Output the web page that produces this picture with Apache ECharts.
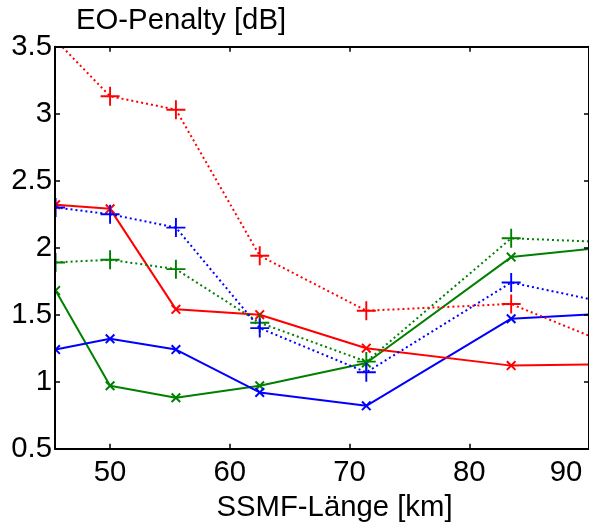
<!DOCTYPE html>
<html>
<head>
<meta charset="utf-8">
<script src="https://cdn.jsdelivr.net/npm/echarts@6/dist/echarts.min.js"></script>
<style>
  html, body { margin: 0; padding: 0; background: #fff; }
  #chart { width: 589px; height: 527px; }
</style>
</head>
<body>
<div id="chart"></div>
<script>
// Fibre lengths (km) at which the penalty was evaluated
const lengths = [45.45, 50, 55.5, 62.5, 71.4, 83.5, 92];

// EO penalty in dB, one array per configuration
const redPlus   = [3.55, 3.13, 3.03, 1.94, 1.53, 1.58, 1.27];
const redCross  = [2.32, 2.29, 1.54, 1.50, 1.25, 1.12, 1.13];
const bluePlus  = [2.30, 2.25, 2.15, 1.40, 1.07, 1.74, 1.58];
const blueCross = [1.24, 1.32, 1.24, 0.92, 0.82, 1.47, 1.51];
const greenPlus = [1.89, 1.91, 1.84, 1.44, 1.15, 2.07, 2.04];
const greenCross= [1.68, 0.97, 0.88, 0.97, 1.14, 1.93, 2.01];

const xTicks = [50, 60, 70, 80, 90];

const FONT = 'Liberation Sans';
const FS = 29.3;

const PLUS = 'path://M0,9H20V11H0Z M9,0H11V20H9Z';
const CROSS = 'path://M0,2.83L2.83,0L20,17.17L17.17,20Z M17.17,0L20,2.83L2.83,20L0,17.17Z';

function pairs(ys) {
  return lengths.map((x, i) => [x, ys[i]]);
}

function mkSeries(ys, color, dotted) {
  return {
    type: 'line',
    data: pairs(ys),
    clip: true,
    symbol: dotted ? PLUS : CROSS,
    symbolSize: dotted ? 19 : 10,
    itemStyle: { color: color },
    lineStyle: {
      color: color,
      width: 2,
      type: dotted ? [2, 3] : 'solid'
    },
    emphasis: { disabled: true },
    z: 2
  };
}

const chart = echarts.init(document.getElementById('chart'), null, { renderer: 'canvas' });

const tickCommon = {
  show: true, inside: true, length: 5,
  lineStyle: { color: '#000', width: 1.5 }
};

chart.setOption({
  animation: false,
  backgroundColor: '#fff',
  grid: { left: 55, top: 46.7, width: 536.6, height: 402 },
  xAxis: [
    {
      type: 'value', position: 'bottom', min: 45.4, max: 90,
      z: 10,
      axisLine: { show: true, onZero: false, lineStyle: { color: '#000', width: 2 } },
      axisTick: Object.assign({ customValues: xTicks }, tickCommon),
      splitLine: { show: false },
      axisLabel: {
        customValues: xTicks,
        margin: 10,
        color: '#000', fontFamily: FONT, fontSize: FS,
        formatter: v => (v === 90 ? '{s|90}' : String(v)),
        rich: { s: { padding: [0, 46, 0, 0], color: '#000', fontFamily: FONT, fontSize: FS } }
      }
    },
    {
      type: 'value', position: 'top', min: 45.4, max: 90,
      z: 10,
      axisLine: { show: true, onZero: false, lineStyle: { color: '#000', width: 2 } },
      axisTick: Object.assign({ customValues: xTicks }, tickCommon),
      splitLine: { show: false },
      axisLabel: { show: false }
    }
  ],
  yAxis: [
    {
      type: 'value', position: 'left', min: 0.5, max: 3.5, interval: 0.5,
      z: 10,
      axisLine: { show: true, onZero: false, lineStyle: { color: '#000', width: 2 } },
      axisTick: tickCommon,
      splitLine: { show: false },
      axisLabel: {
        margin: 3, color: '#000', fontFamily: FONT, fontSize: FS,
        formatter: v => String(v)
      }
    },
    {
      type: 'value', position: 'right', min: 0.5, max: 3.5, interval: 0.5,
      z: 10,
      axisLine: { show: true, onZero: false, lineStyle: { color: '#000', width: 2 } },
      axisTick: tickCommon,
      splitLine: { show: false },
      axisLabel: { show: false }
    }
  ],
  graphic: [
    {
      type: 'rect', z: 4,
      shape: { x: 0, y: 30, width: 54, height: 430 },
      style: { fill: '#fff' }
    },
    {
      type: 'text', z: 20, x: 76, y: 21,
      style: {
        text: 'EO-Penalty [dB]', fill: '#000',
        font: FS + 'px "' + FONT + '"',
        textAlign: 'left', textVerticalAlign: 'middle'
      }
    },
    {
      type: 'text', z: 20, x: 334.5, y: 508,
      style: {
        text: 'SSMF-Länge [km]', fill: '#000',
        font: FS + 'px "' + FONT + '"',
        textAlign: 'center', textVerticalAlign: 'middle'
      }
    }
  ],
  series: [
    mkSeries(greenCross, '#008000', false),
    mkSeries(blueCross, '#0000ff', false),
    mkSeries(redCross, '#ff0000', false),
    mkSeries(greenPlus, '#008000', true),
    mkSeries(bluePlus, '#0000ff', true),
    mkSeries(redPlus, '#ff0000', true)
  ]
});
</script>
</body>
</html>
